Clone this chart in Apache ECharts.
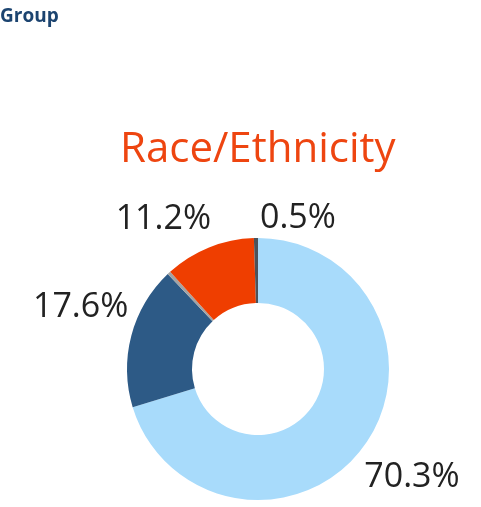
<!DOCTYPE html>
<html>
<head>
<meta charset="utf-8">
<script src="https://cdn.jsdelivr.net/npm/echarts@6/dist/echarts.min.js"></script>
<style>
  html, body { margin: 0; padding: 0; background: #fff; }
  #chart { width: 481px; height: 507px; }
</style>
</head>
<body>
<div id="chart"></div>
<script>
// slices, clockwise from 12 o'clock
const groups = ['White', 'Hispanic', 'Other', 'Black', 'Asian']
const shares = [70.3, 17.6, 0.4, 11.2, 0.5]
const showLabel = [true, true, false, true, true]
const colors = ['#a8dbfb', '#2d5a86', '#a3a3a3', '#ef3e00', '#4b5259']
// tableau-ish nudges of the outside labels
const nudge = [[-4, 30, 'left'], [2, -28, 'right'], [0, 0, 'right'], [7, -28, 'right'], [9, -20, 'left']]

const myChart = echarts.init(document.getElementById('chart'))

const option = {
    animation: false,
    title: [
        {
            text: 'Group',
            left: -5,
            top: 2,
            textStyle: { fontFamily: 'Open Sans', fontSize: 19, fontWeight: 'bold', color: '#1c4470' }
        },
        {
            text: 'Race/Ethnicity',
            left: 115,
            top: 124,
            textStyle: { fontFamily: 'Open Sans', fontSize: 42, fontWeight: 'normal', color: '#ee4510' }
        }
    ],
    series: [
        {
            type: 'pie',
            center: [258, 369],
            radius: [66, 131],
            startAngle: 90,
            clockwise: true,
            avoidLabelOverlap: false,
            label: {
                position: 'outside',
                formatter: (p) => p.value.toFixed(1) + '%',
                fontFamily: 'Open Sans',
                fontSize: 34,
                color: '#222',
                distanceToLabelLine: 5
            },
            labelLine: { show: false, length: 0, length2: 0 },
            labelLayout: (params) => {
                const n = nudge[params.dataIndex]
                return { dx: n[0], dy: n[1], align: n[2] }
            },
            itemStyle: { borderWidth: 0 },
            emphasis: { disabled: true },
            data: groups.map((g, i) => ({
                name: g,
                value: shares[i],
                itemStyle: { color: colors[i] },
                label: { show: showLabel[i] }
            }))
        }
    ]
}

myChart.setOption(option)
</script>
</body>
</html>
